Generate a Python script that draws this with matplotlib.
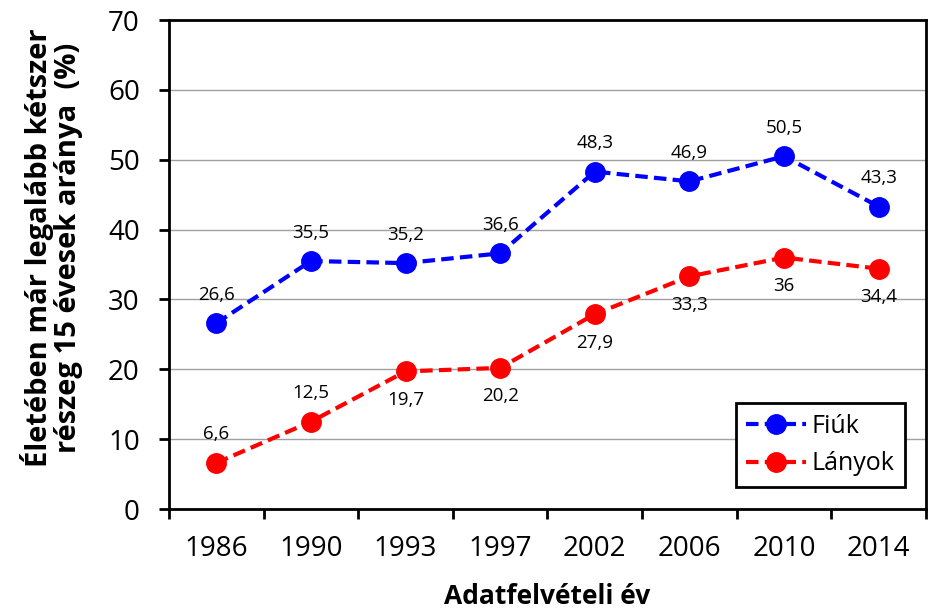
import numpy as np
import matplotlib.pyplot as plt

years = ['1986', '1990', '1993', '1997', '2002', '2006', '2010', '2014']
fiuk = [26.6, 35.5, 35.2, 36.6, 48.3, 46.9, 50.5, 43.3]
lanyok = [6.6, 12.5, 19.7, 20.2, 27.9, 33.3, 36.0, 34.4]
lanyok_above = [True, True, False, False, False, False, False, False]

plt.rcParams['font.family'] = ['Open Sans', 'DejaVu Sans']

fig = plt.figure(figsize=(9.3, 6.12), dpi=100)
ax = fig.add_axes([0.1817, 0.1683, 0.8140, 0.7990])

x = np.arange(len(years))
ax.plot(x, fiuk, color='#0000ff', linestyle=(0, (3, 1.5)), linewidth=3,
        marker='o', markersize=14, label='Fiúk', zorder=3)
ax.plot(x, lanyok, color='#ff0000', linestyle=(0, (3, 1.5)), linewidth=3,
        marker='o', markersize=14, label='Lányok', zorder=3)

def fmt(v):
    s = f'{v:.1f}'.replace('.', ',')
    return s[:-2] if s.endswith(',0') else s

for xi, v in zip(x, fiuk):
    ax.annotate(fmt(v), (xi, v), xytext=(0, 14), textcoords='offset points',
                ha='center', va='bottom', fontsize=13.5)
for xi, v, up in zip(x, lanyok, lanyok_above):
    if up:
        ax.annotate(fmt(v), (xi, v), xytext=(0, 14), textcoords='offset points',
                    ha='center', va='bottom', fontsize=13.5)
    else:
        ax.annotate(fmt(v), (xi, v), xytext=(0, -14), textcoords='offset points',
                    ha='center', va='top', fontsize=13.5)

ax.set_xlim(-0.5, len(years) - 0.5)
ax.set_ylim(0, 70)
ax.set_yticks(range(0, 71, 10))
ax.set_xticks(x)
ax.set_xticklabels(years)
ax.set_xticks(np.arange(-0.5, len(years)), minor=True)
ax.tick_params(axis='x', which='major', length=0, pad=19, labelsize=20)
ax.tick_params(axis='x', which='minor', length=7, width=2, direction='out')
ax.tick_params(axis='y', length=7, width=2, direction='out', pad=14, labelsize=20)
ax.grid(True, axis='y', color='#a0a0a0', linewidth=1)
ax.set_axisbelow(True)
for sp in ax.spines.values():
    sp.set_linewidth(2)
    sp.set_color('black')

ax.set_xlabel('Adatfelvételi év', fontsize=19, fontweight='bold', labelpad=14)
ax.set_ylabel('Életében már legalább kétszer\nrészeg 15 évesek aránya  (%)',
              fontsize=21, fontweight='bold', linespacing=1.0)
ax.yaxis.set_label_coords(-0.113, 0.534)

leg = ax.legend(loc='lower right', bbox_to_anchor=(0.972, 0.045), borderaxespad=0,
                fontsize=18, frameon=True, fancybox=False, edgecolor='black',
                framealpha=1, handlelength=2.4, handletextpad=0.2,
                borderpad=0.42, labelspacing=0.5)
leg.get_frame().set_linewidth(2)

fig.savefig('out.png', dpi=100)
